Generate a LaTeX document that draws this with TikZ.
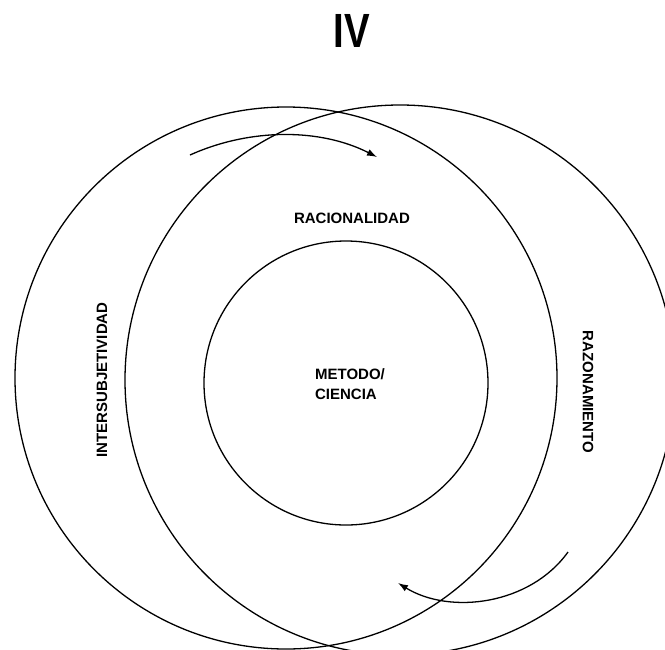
\documentclass[tikz,border=0pt]{standalone}
\usepackage{fontspec}
\setmainfont{Liberation Sans}
\usetikzlibrary{arrows.meta}
\begin{document}
\begin{tikzpicture}[x=1pt,y=-1pt,
  ring/.style={circle,draw,line width=1.3pt,inner sep=0pt},
  lbl/.style={font=\fontsize{15}{20}\selectfont\bfseries,inner sep=0pt},
  flow/.style={line width=1.3pt,-{Latex[length=10pt,width=7pt]}}]
\useasboundingbox (0,0) rectangle (665,649);
\node[ring,minimum size=542pt] (L) at (286,378) {};
\node[ring,minimum size=550pt] (R) at (400,380) {};
\node[ring,minimum size=284pt] (C) at (346,383) {};
\node[lbl] (rac) at (352,218) {RACIONALIDAD};
\node[lbl,align=left] (met) at (350,384) {METODO/\\CIENCIA};
\node[lbl,rotate=90] (int) at (102,380) {INTERSUBJETIVIDAD};
\node[lbl,rotate=-90] (raz) at (588,392) {RAZONAMIENTO};
\node[font=\fontsize{48}{48}\selectfont\bfseries,xscale=0.8,inner sep=0pt] (title) at (352,31) {IV};
\coordinate (a1) at (190,155);
\coordinate (a2) at (377,157);
\draw[flow] (a1) .. controls (250,128) and (320,128) .. (a2);
\coordinate (b1) at (568,552);
\coordinate (b2) at (398,583);
\draw[flow] (b1) .. controls (530,605) and (450,615) .. (b2);
\end{tikzpicture}
\end{document}
